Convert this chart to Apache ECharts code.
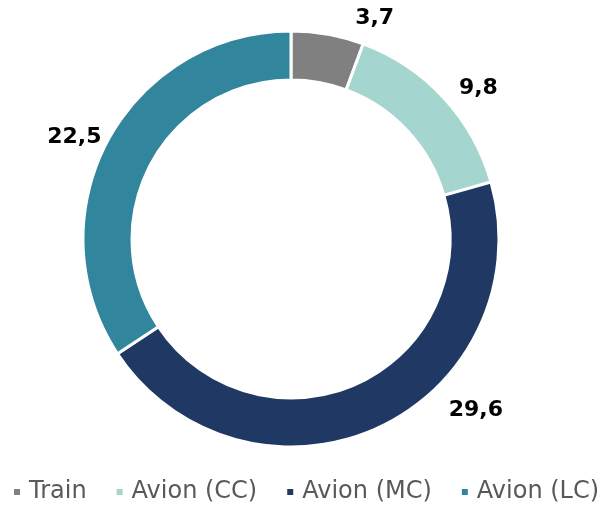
<!DOCTYPE html>
<html lang="fr">
<head>
  <meta charset="UTF-8">
  <title>Donut</title>
  <script src="https://cdn.jsdelivr.net/npm/echarts@6/dist/echarts.min.js"></script>
  <style>
    html, body { margin: 0; padding: 0; background: #fff; }
    #main { width: 600px; height: 507px; }
  </style>
</head>
<body>
  <div id="main"></div>
  <script>
    // données
    const categories = ['Train', 'Avion (CC)', 'Avion (MC)', 'Avion (LC)']
    const values = [3.7, 9.8, 29.6, 22.5]
    const colors = ['#808080', '#a4d5cf', '#203864', '#31869e']
    // décalage des étiquettes (comme dans Excel)
    const labelOffsets = [[20, -2], [0, 0], [60, -30], [11, 3]]

    let myChart = echarts.init(document.querySelector('#main'))

    let option = {
      animation: false,
      color: colors,
      legend: {
        top: 480,
        left: 12,
        width: 588,
        padding: 0,
        itemWidth: 8,
        itemHeight: 8,
        itemGap: 28,
        icon: 'rect',
        textStyle: {
          fontFamily: 'DejaVu Sans', fontSize: 24, color: '#595959',
          padding: [0, 0, 0, 3]
        },
        data: categories
      },
      series: [
        {
          type: 'pie',
          center: [291, 239],
          radius: [159, 208],
          startAngle: 90,
          clockwise: true,
          itemStyle: { borderColor: '#fff', borderWidth: 3 },
          label: {
            show: true,
            position: 'outside',
            formatter: p => String(p.value).replace('.', ','),
            fontFamily: 'DejaVu Sans',
            fontWeight: 'bold',
            fontSize: 22,
            color: '#000'
          },
          labelLine: { show: false, length: 14, length2: 0 },
          data: categories.map((name, i) => ({
            name: name,
            value: values[i],
            label: { offset: labelOffsets[i] }
          }))
        }
      ]
    };

    myChart.setOption(option);
  </script>
</body>
</html>
